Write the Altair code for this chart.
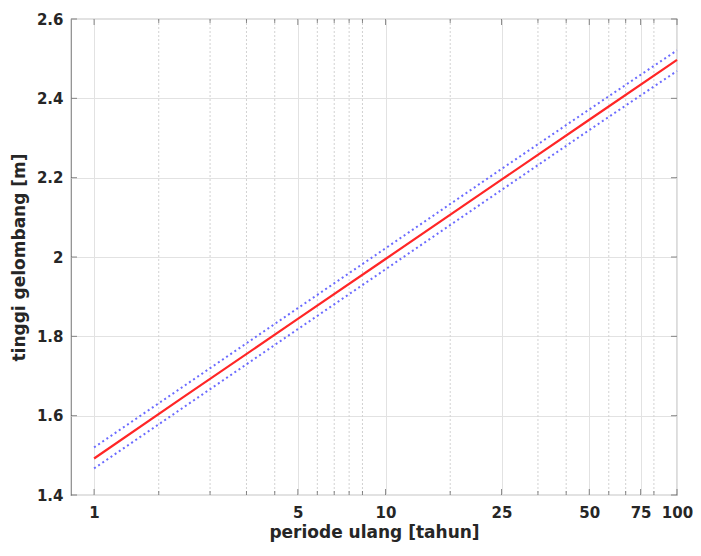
import altair as alt
import pandas as pd

# Data
periods = [1, 2, 5, 10, 25, 50, 100]
height_est = [1.492, 1.644, 1.844, 1.995, 2.195, 2.346, 2.497]
height_upper = [1.520, 1.671, 1.871, 2.022, 2.222, 2.372, 2.521]
height_lower = [1.467, 1.618, 1.818, 1.969, 2.169, 2.320, 2.469]

x_major = [1, 5, 10, 25, 50, 75, 100]
x_minor = [1.6667, 2.5, 3.3333, 4.1667, 5.8333, 6.6667, 7.5, 8.3333,
           16.667, 33.333, 41.667, 58.333, 66.667, 83.333]
y_ticks = [1.4, 1.6, 1.8, 2.0, 2.2, 2.4, 2.6]

x_domain = [0.8333, 100]
y_domain = [1.4, 2.6]

W, H = 606, 476

df = pd.DataFrame({
    "T": periods * 3,
    "H": height_est + height_upper + height_lower,
    "s": ["est"] * len(periods) + ["up"] * len(periods) + ["lo"] * len(periods),
})
df_minor = pd.DataFrame({"T": x_minor})
df_major = pd.DataFrame({"T": x_major})
df_y = pd.DataFrame({"v": y_ticks})

xs = alt.Scale(type="log", domain=x_domain, nice=False)
ys = alt.Scale(domain=y_domain, nice=False)

lab_font = "DejaVu Sans"
xaxis = alt.Axis(values=x_major, grid=True, gridColor="#e2e2e2", gridWidth=1,
                 ticks=False, domain=False, labelFont=lab_font, labelFontWeight="bold",
                 labelFontSize=15, labelColor="#262626", labelPadding=10,
                 labelFlush=False, labelOverlap=False, labelBound=False,
                 title="periode ulang [tahun]", titleFont=lab_font, titleFontWeight="bold",
                 titleFontSize=17, titleColor="#262626", titlePadding=4,
                 labelExpr="format(datum.value, '~g')")
yaxis = alt.Axis(values=y_ticks, grid=True, gridColor="#e2e2e2", gridWidth=1,
                 ticks=False, domain=False, labelFont=lab_font, labelFontWeight="bold",
                 labelFontSize=15, labelColor="#262626", labelPadding=8,
                 labelFlush=False, labelOverlap=False,
                 format=".1~f",
                 title="tinggi gelombang [m]", titleFont=lab_font, titleFontWeight="bold",
                 titleFontSize=17, titleColor="#262626", titlePadding=8)

minor_grid = alt.Chart(df_minor).mark_rule(color="#d2d2d2", strokeDash=[2, 2], strokeWidth=1).encode(
    x=alt.X("T:Q", scale=xs, axis=xaxis)
)

est = alt.Chart(df).transform_filter(alt.datum.s == "est").mark_line(
    color="#ff2626", strokeWidth=2.2).encode(
    x=alt.X("T:Q", scale=xs), y=alt.Y("H:Q", scale=ys, axis=yaxis))
up = alt.Chart(df).transform_filter(alt.datum.s == "up").mark_line(
    color="#6b6bff", strokeWidth=2, strokeDash=[2, 3]).encode(
    x=alt.X("T:Q", scale=xs), y=alt.Y("H:Q", scale=ys))
lo = alt.Chart(df).transform_filter(alt.datum.s == "lo").mark_line(
    color="#6b6bff", strokeWidth=2, strokeDash=[2, 3]).encode(
    x=alt.X("T:Q", scale=xs), y=alt.Y("H:Q", scale=ys))

tick_col = "#5a5a5a"
xt_bot = alt.Chart(df_major).mark_tick(color=tick_col, size=6, thickness=1).encode(
    x=alt.X("T:Q", scale=xs), y=alt.value(H - 3))
xt_top = alt.Chart(df_major).mark_tick(color=tick_col, size=6, thickness=1).encode(
    x=alt.X("T:Q", scale=xs), y=alt.value(3))
xm_bot = alt.Chart(df_minor).mark_tick(color=tick_col, size=4, thickness=1).encode(
    x=alt.X("T:Q", scale=xs), y=alt.value(H - 2))
xm_top = alt.Chart(df_minor).mark_tick(color=tick_col, size=4, thickness=1).encode(
    x=alt.X("T:Q", scale=xs), y=alt.value(2))
yt_l = alt.Chart(df_y).mark_tick(color=tick_col, size=6, thickness=1).encode(
    y=alt.Y("v:Q", scale=ys), x=alt.value(3))
yt_r = alt.Chart(df_y).mark_tick(color=tick_col, size=6, thickness=1).encode(
    y=alt.Y("v:Q", scale=ys), x=alt.value(W - 3))

chart = alt.layer(minor_grid, lo, up, est, xt_bot, xt_top, xm_bot, xm_top, yt_l, yt_r).properties(
    width=W, height=H,
    autosize=alt.AutoSizeParams(type="none"),
    padding={"left": 63, "top": 11, "right": 16, "bottom": 49},
    background="white",
).configure_view(stroke="#8a8a8a", strokeWidth=1.2)

chart.save("out.html", embed_options={"renderer": "svg", "actions": False})
